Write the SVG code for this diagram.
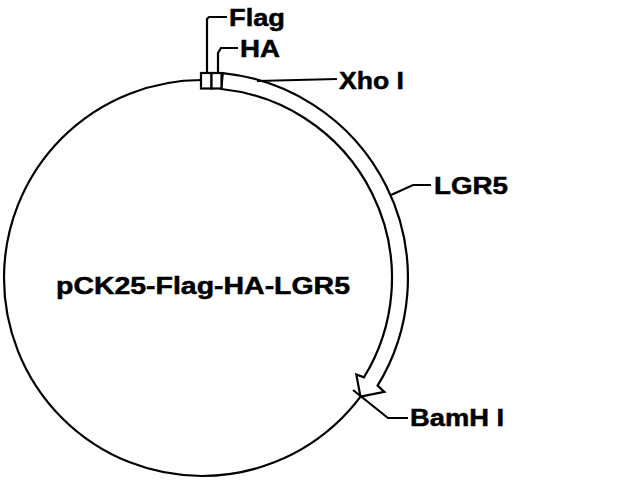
<svg xmlns="http://www.w3.org/2000/svg" width="640" height="480" viewBox="0 0 640 480">
<style>
.ln{fill:none;stroke:#000;stroke-width:2.2}
.wf{fill:#fff;stroke:#000;stroke-width:2.2}
text{font-family:"Liberation Sans",Arial,sans-serif;font-weight:bold;font-size:24px;fill:#000;stroke:#000;stroke-width:0.5}
</style>
<rect width="640" height="480" fill="#fff"/>
<g id="plasmid">
<circle class="ln" cx="202" cy="278" r="198"/>
<text x="56" y="294" font-size="23" textLength="294" lengthAdjust="spacingAndGlyphs">pCK25-Flag-HA-LGR5</text>
</g>
<g id="LGR5">
<path class="wf" d="M222.8,73.1 A206,206 0 0 1 377.6,385.6 L384.3,391.9 L360.5,396.6 L356.3,374.4 L364,377.3 A190,190 0 0 0 221.2,89 Z"/>
</g>
<g id="Flag"><rect class="wf" x="201" y="73" width="10.5" height="15.5"/></g>
<g id="HA"><rect class="wf" x="211.5" y="73" width="10" height="15.5"/></g>
<g id="connectors">
<path class="ln" d="M207,73 L207,19 L209,17 L227,17"/>
<path class="ln" d="M218,73 L218,53 L221,48 L238,48"/>
<path class="ln" d="M257,81 L337,79"/>
<path class="ln" d="M391,195 L413,185 L431,185"/>
<path class="ln" d="M353,390 L388,418 L408,418"/>
</g>
<g id="labels">
<text x="229" y="26" textLength="56" lengthAdjust="spacingAndGlyphs">Flag</text>
<text x="240" y="57" textLength="40" lengthAdjust="spacingAndGlyphs">HA</text>
<text x="339" y="89" textLength="65" lengthAdjust="spacingAndGlyphs">Xho I</text>
<text x="434" y="194" textLength="74" lengthAdjust="spacingAndGlyphs">LGR5</text>
<text x="410" y="426" textLength="94" lengthAdjust="spacingAndGlyphs">BamH I</text>
</g>
</svg>
